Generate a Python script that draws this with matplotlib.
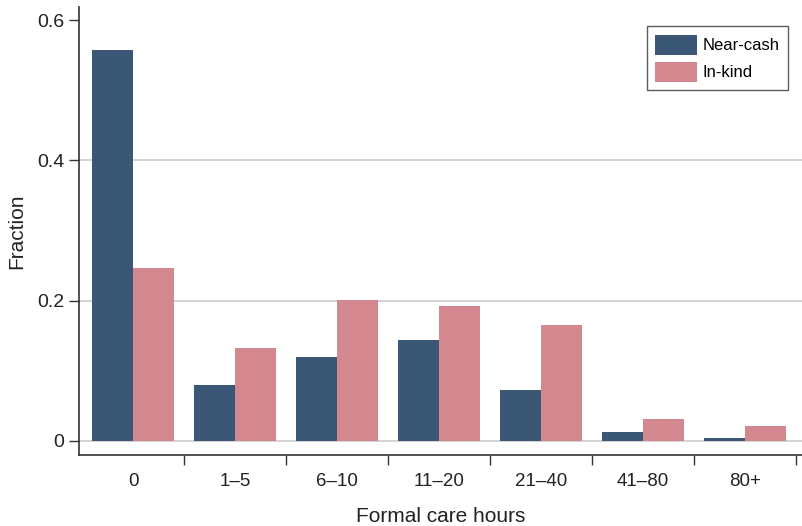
import numpy as np
import matplotlib.pyplot as plt
from matplotlib.ticker import FixedLocator

categories = ["0", "1\u20135", "6\u201310", "11\u201320", "21\u201340", "41\u201380", "80+"]
near_cash = [0.557, 0.080, 0.120, 0.144, 0.073, 0.013, 0.004]
in_kind = [0.247, 0.132, 0.201, 0.192, 0.165, 0.032, 0.021]

NAVY = "#3a5775"
PINK = "#d38890"

plt.rcParams["font.family"] = ["Liberation Sans", "DejaVu Sans"]

fig = plt.figure(figsize=(8.02, 5.26), dpi=100)
ax = fig.add_axes([0.0985, 0.135, 0.9015, 0.852])

x = np.arange(len(categories))
w = 0.4
ax.bar(x - w / 2, near_cash, w, color=NAVY, label="Near-cash", zorder=3)
ax.bar(x + w / 2, in_kind, w, color=PINK, label="In-kind", zorder=3)

ax.set_xlim(-0.53, len(categories) - 0.44)
ax.set_ylim(-0.02, 0.619)

ax.set_yticks([0, 0.2, 0.4, 0.6])
ax.set_yticklabels(["0", "0.2", "0.4", "0.6"])
for yv in [0, 0.2, 0.4]:
    ax.axhline(yv, color="#cccccc", lw=1.2, zorder=1)

ax.set_xticks(x)
ax.set_xticklabels(categories)
# separator ticks between the groups
ax.xaxis.set_minor_locator(FixedLocator(list(x + 0.5)))
ax.tick_params(axis="x", which="major", length=0, pad=13, labelsize=13.5, colors="#222222")
ax.tick_params(axis="x", which="minor", length=7, width=1, color="#333333")
ax.tick_params(axis="y", length=7, width=1, labelsize=14, color="#333333", labelcolor="#222222")

for s in ["top", "right"]:
    ax.spines[s].set_visible(False)
for s in ["left", "bottom"]:
    ax.spines[s].set_color("#333333")
    ax.spines[s].set_linewidth(1.2)

ax.set_xlabel("Formal care hours", fontsize=15, labelpad=12, color="#222222")
ax.set_ylabel("Fraction", fontsize=15, labelpad=8, color="#222222")

leg = ax.legend(loc="upper right", bbox_to_anchor=(0.992, 0.975), fontsize=12,
                frameon=True, fancybox=False, edgecolor="#333333",
                handlelength=2.5, handleheight=1.45, handletextpad=0.35,
                labelspacing=0.45, borderpad=0.5)
leg.get_frame().set_linewidth(1.0)

fig.savefig("out.png", dpi=100)
